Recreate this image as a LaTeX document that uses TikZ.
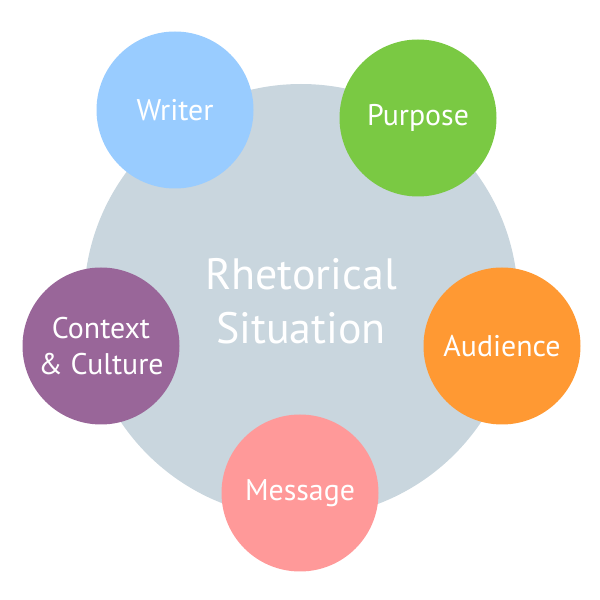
\documentclass[tikz,border=0pt]{standalone}
\usepackage{fontspec}
\setmainfont{PT Sans}
\usepackage{tikz}
\definecolor{situation}{HTML}{C9D6DE}
\definecolor{writercol}{HTML}{99CCFF}
\definecolor{purposecol}{HTML}{7AC943}
\definecolor{audiencecol}{HTML}{FF9933}
\definecolor{messagecol}{HTML}{FF9999}
\definecolor{contextcol}{HTML}{996699}
\begin{document}
\begin{tikzpicture}[
  part/.style={circle, minimum size=3.14cm, inner sep=0pt, text=white,
    font=\fontsize{17}{20}\selectfont, align=center}]
\useasboundingbox (0,0) rectangle (12,12);
\node[circle, fill=situation, minimum size=8.68cm, inner sep=0pt, text=white,
  font=\fontsize{25}{31}\selectfont, align=center] (center) at (6.02,5.98)
  {Rhetorical\\Situation};
\node[part, fill=writercol] (writer) at (3.5,9.8) {Writer};
\node[part, fill=purposecol] (purpose) at (8.36,9.64) {Purpose};
\node[part, fill=audiencecol] (audience) at (10.04,5.08) {Audience};
\node[part, fill=messagecol] (message) at (6.0,2.14) {Message};
\node[part, fill=contextcol] (context) at (2.02,5.08) {Context\\\& Culture};
\end{tikzpicture}
\end{document}
